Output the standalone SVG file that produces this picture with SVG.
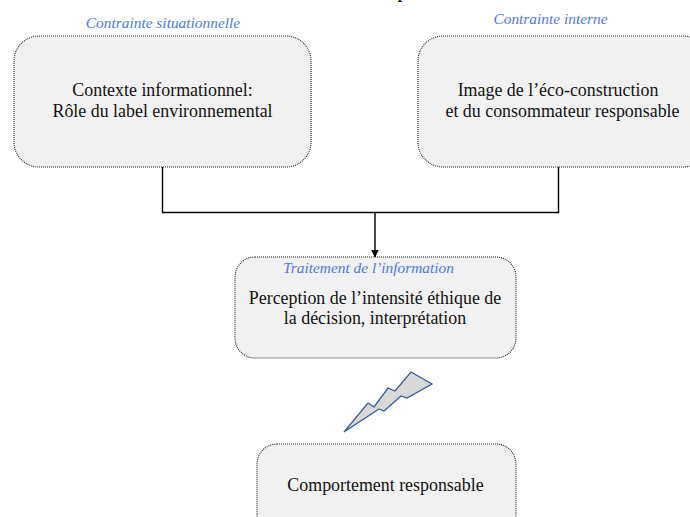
<svg xmlns="http://www.w3.org/2000/svg" width="690" height="517" viewBox="0 0 690 517">
<style>
.box{fill:#f1f1f1;stroke:#222;stroke-width:1.1;stroke-dasharray:1 1}
.t{font-family:"Liberation Serif",serif;font-size:17.9px;fill:#111;text-anchor:middle}
.c{font-family:"Liberation Serif",serif;font-size:15.4px;font-style:italic;fill:#4f7ad6;text-anchor:middle}
.l{fill:none;stroke:#000;stroke-width:1.4}
</style>
<defs><marker id="a" markerUnits="userSpaceOnUse" markerWidth="8" markerHeight="8" refX="8" refY="4" orient="auto"><path d="M0 0L8 4L0 8Z" fill="#000"/></marker></defs>
<rect width="690" height="517" fill="#fff"/>
<text x="397" y="-3" style="font-family:'Liberation Serif',serif;font-size:24px;fill:#111">p</text>
<g id="connectors">
<path class="l" d="M162.500 166V212.500H558.500V166"/>
<path class="l" d="M375 212.500V257.500" marker-end="url(#a)"/>
</g>
<g id="n1"><rect class="box" x="14" y="36" width="297" height="131" rx="25"/>
<text class="c" x="163" y="28">Contrainte situationnelle</text>
<text class="t" x="162.500" y="96">Contexte informationnel:</text>
<text class="t" x="162.500" y="117">Rôle du label environnemental</text></g>
<g id="n2"><rect class="box" x="418" y="36" width="290" height="131" rx="25"/>
<text class="c" x="550.500" y="24">Contrainte interne</text>
<text class="t" x="558" y="96">Image de l’éco-construction</text>
<text class="t" x="562.500" y="117">et du consommateur responsable</text></g>
<g id="n3"><rect class="box" x="235" y="257" width="281" height="101" rx="20"/>
<text class="c" x="368.500" y="273">Traitement de l’information</text>
<text class="t" x="375" y="304">Perception de l’intensité éthique de</text>
<text class="t" x="375" y="324">la décision, interprétation</text></g>
<g id="bolt"><path d="M344 432L368 403L374 407L388 388L395 391L411 372L432 384L407 398L401 396L384 411L379 409Z" fill="#d9d9d9" stroke="#3b5c99" stroke-width="1.3"/></g>
<g id="n4"><rect class="box" x="257" y="444" width="259" height="90" rx="20"/>
<text class="t" x="385.500" y="491">Comportement responsable</text></g>
</svg>
